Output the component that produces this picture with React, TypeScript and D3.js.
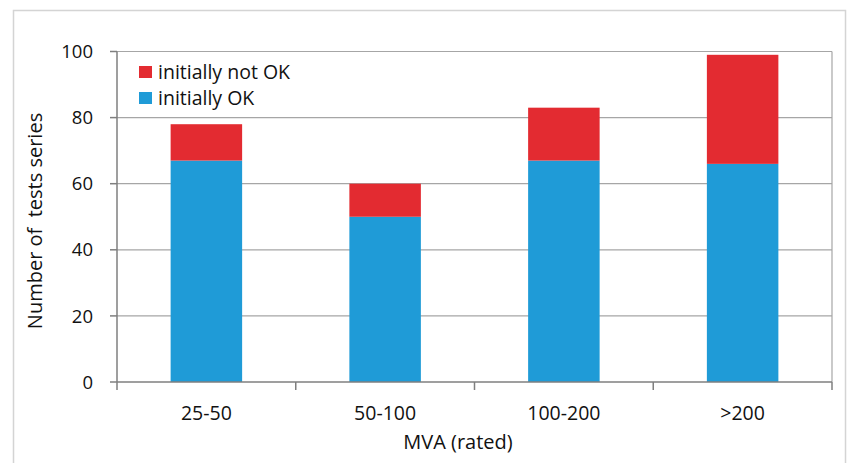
import React from "react";
import * as d3 from "d3";

const categories = ["25-50", "50-100", "100-200", ">200"];
const initiallyOK = [67, 50, 67, 66];
const initiallyNotOK = [11, 10, 16, 33];
const yTicks = [0, 20, 40, 60, 80, 100];
const seriesNames = ["initially not OK", "initially OK"];

const W = 849;
const H = 463;
const FONT = "'Open Sans', 'Liberation Sans', sans-serif";
const RED = "#e32b31";
const BLUE = "#1f9bd7";
const TXT = "#111";

export default function App() {
  const left = 117, right = 832, top = 51.5, bottom = 382;
  const x = d3.scaleBand<string>().domain(categories).range([left, right]).paddingInner(0.6).paddingOuter(0.3);
  const y = d3.scaleLinear().domain([0, 100]).range([bottom, top]);
  const step = x.step();
  const stacked = categories.map((c, i) => ({ c, ok: initiallyOK[i], nok: initiallyNotOK[i] }));

  return (
    <svg width={W} height={H} style={{ position: "fixed", left: 0, top: 0, background: "#fff" }} fontFamily={FONT}>
      <rect x={13.5} y={10.5} width={832} height={470} fill="#fff" stroke="#d4d4d4" strokeWidth={1.5} />
      {yTicks.filter(t => t > 0).map(t => (
        <line key={"g" + t} x1={left} x2={right} y1={y(t)} y2={y(t)} stroke="#a6a6a6" strokeWidth={1.2} />
      ))}
      <line x1={right} x2={right} y1={top} y2={bottom} stroke="#a6a6a6" strokeWidth={1.2} />
      {stacked.map(d => (
        <g key={d.c}>
          <rect x={x(d.c)} width={x.bandwidth()} y={y(d.ok)} height={y(0) - y(d.ok)} fill={BLUE} />
          <rect x={x(d.c)} width={x.bandwidth()} y={y(d.ok + d.nok)} height={y(d.ok) - y(d.ok + d.nok)} fill={RED} />
        </g>
      ))}
      <line x1={left} x2={left} y1={top} y2={bottom} stroke="#7f7f7f" strokeWidth={1.5} />
      <line x1={left} x2={right} y1={bottom} y2={bottom} stroke="#7f7f7f" strokeWidth={1.5} />
      {yTicks.map(t => (
        <g key={"t" + t}>
          <line x1={left - 7} x2={left} y1={y(t)} y2={y(t)} stroke="#7f7f7f" strokeWidth={1.5} />
          <text x={93} y={y(t)} dy="0.36em" textAnchor="end" fontSize={18.5} fill={TXT}>{t}</text>
        </g>
      ))}
      {[0, 1, 2, 3, 4].map(i => (
        <line key={"xt" + i} x1={left + i * step} x2={left + i * step} y1={bottom} y2={bottom + 8} stroke="#7f7f7f" strokeWidth={1.5} />
      ))}
      {categories.map(c => (
        <text key={"xl" + c} x={(x(c) as number) + x.bandwidth() / 2} y={420} textAnchor="middle" fontSize={19.5} fill={TXT}>{c}</text>
      ))}
      <text x={458} y={449} textAnchor="middle" fontSize={20} fill={TXT}>MVA (rated)</text>
      <text transform="translate(42,221) rotate(-90)" textAnchor="middle" fontSize={20} fill={TXT} style={{ whiteSpace: "pre" }}>Number of  tests series</text>
      {seriesNames.map((s, i) => (
        <g key={s}>
          <rect x={139} y={66 + i * 26} width={13} height={12} fill={i === 0 ? RED : BLUE} />
          <text x={158} y={79 + i * 26} fontSize={19.5} fill={TXT}>{s}</text>
        </g>
      ))}
    </svg>
  );
}
